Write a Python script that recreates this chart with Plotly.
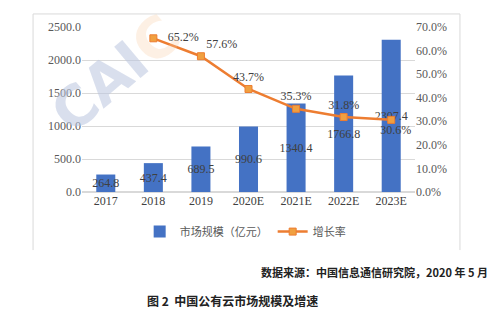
import plotly.graph_objects as go

years = ["2017", "2018", "2019", "2020E", "2021E", "2022E", "2023E"]
market = [264.8, 437.4, 689.5, 990.6, 1340.4, 1766.8, 2307.4]
growth_years = ["2018", "2019", "2020E", "2021E", "2022E", "2023E"]
growth = [65.2, 57.6, 43.7, 35.3, 31.8, 30.6]
growth_pos = ["middle right", "top right", "top center", "top center", "top center", "bottom center"]
left_ticks = [0, 500, 1000, 1500, 2000, 2500]
right_ticks = [0, 10, 20, 30, 40, 50, 60, 70]

serif = "Liberation Serif"
cjk = "Noto Sans CJK SC"

growth_text = [f"{v:.1f}%" for v in growth]
growth_text[0] = "\u00a0\u00a0\u00a0" + growth_text[0]
growth_text[-1] = "\u00a0\u00a0\u00a0" + growth_text[-1]

fig = go.Figure()
fig.add_trace(go.Bar(
    x=years, y=market, name="市场规模（亿元）",
    marker=dict(color="#4472C4", line=dict(width=0)),
    width=0.4,
    text=[f"{v:.1f}" for v in market], textposition="inside",
    insidetextanchor="middle", textangle=0, constraintext="none",
    textfont=dict(family=serif, size=12, color="#404040"),
    cliponaxis=False,
))
fig.add_trace(go.Scatter(
    x=growth_years, y=growth, name="增长率", yaxis="y2",
    mode="lines+markers+text",
    line=dict(color="#ED7D31", width=2.5),
    marker=dict(symbol="square", size=7, color="#F0A040", line=dict(color="#ED7D31", width=1)),
    text=growth_text, textposition=growth_pos,
    textfont=dict(family=serif, size=12, color="#404040"),
    cliponaxis=False,
))

fig.update_layout(
    width=500, height=328,
    margin=dict(l=82, r=85, t=27, b=136),
    paper_bgcolor="white", plot_bgcolor="white",
    bargap=0.6,
    xaxis=dict(type="category", showgrid=False, showline=False, ticks="",
               tickfont=dict(family=serif, size=12, color="#404040")),
    yaxis=dict(range=[0, 2500], tickvals=left_ticks,
               ticktext=[f"{v:.1f}" for v in left_ticks],
               showgrid=True, gridcolor="#D9D9D9", gridwidth=1,
               zeroline=True, zerolinecolor="#D9D9D9",
               tickfont=dict(family=serif, size=12, color="#595959")),
    yaxis2=dict(range=[0, 70], overlaying="y", side="right", tickvals=right_ticks,
                ticktext=[f"{v:.1f}%" for v in right_ticks],
                showgrid=False, zeroline=False,
                tickfont=dict(family=serif, size=12, color="#595959")),
    legend=dict(orientation="h", x=0.49, xanchor="center", y=-0.24, yanchor="middle",
                font=dict(family=cjk, size=11, color="#595959"), itemwidth=30),
    showlegend=True,
    shapes=[
        dict(type="path", xref="paper", yref="paper",
             path="M -0.147 -0.352 L -0.147 1.079 L 1.135 1.079 L 1.135 -0.352",
             line=dict(color="#D9D9D9", width=1)),
    ],
    annotations=[
        dict(text="<b>CAI<span style='color:rgba(250,205,165,0.55)'>C</span></b>",
             xref="paper", yref="paper", x=0.1, y=0.72, xanchor="center", yanchor="middle",
             showarrow=False, textangle=-40,
             font=dict(family="DejaVu Sans", size=56, color="rgba(185,196,222,0.55)")),
        dict(text="<b>数据来源：中国信息通信研究院，2020 年 5 月</b>", xref="paper", yref="paper",
             x=1.225, y=-0.485, xanchor="right", yanchor="middle", showarrow=False,
             font=dict(family=cjk, size=11, color="#222222")),
        dict(text="<b>图 2  中国公有云市场规模及增速</b>", xref="paper", yref="paper",
             x=0.189, y=-0.655, xanchor="left", yanchor="middle", showarrow=False,
             font=dict(family=cjk, size=12, color="#222222")),
    ],
)

fig.write_html("out.html")
